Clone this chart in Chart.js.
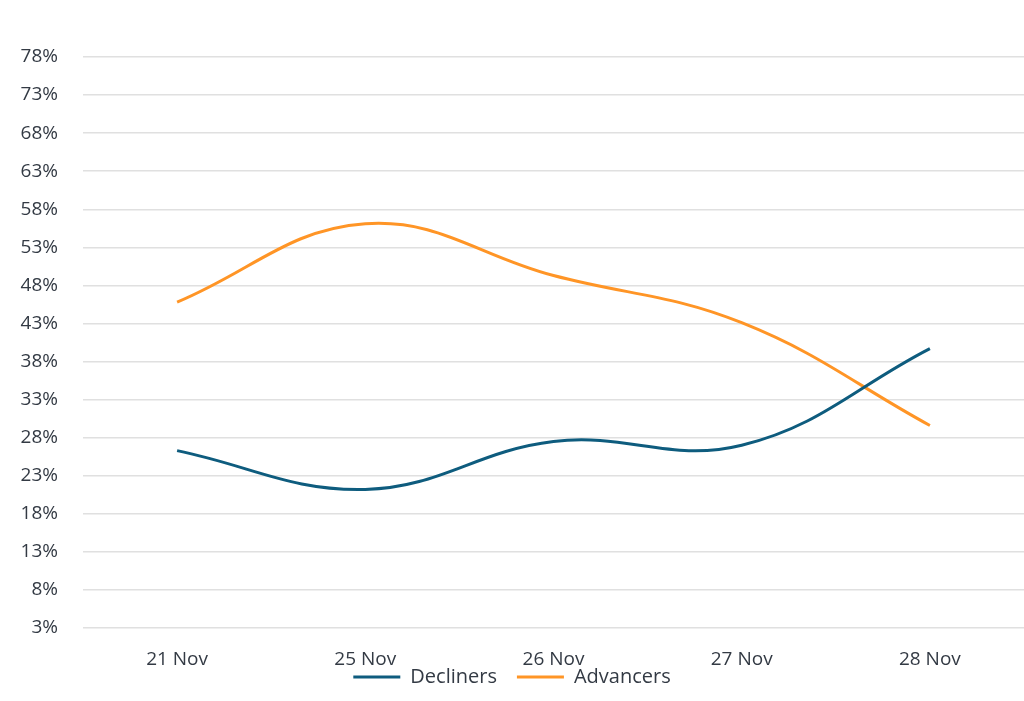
<!DOCTYPE html>
<html>
<head>
<meta charset="utf-8">
<script src="https://cdn.jsdelivr.net/npm/chart.js@4"></script>
<style>
html,body{margin:0;padding:0;background:#fff;}
#wrap{width:1024px;height:701px;position:relative;}
</style>
</head>
<body>
<div id="wrap"><canvas id="c" width="1024" height="701"></canvas></div>
<script>
const categories = ["21 Nov", "25 Nov", "26 Nov", "27 Nov", "28 Nov"];
const decliners = [26.3, 21.2, 27.5, 27.0, 39.7];
const advancers = [45.8, 56.1, 49.3, 43.1, 29.6];
const yMin = 3, yMax = 78, yStep = 5;

const FONT = "'Open Sans', 'DejaVu Sans', sans-serif";
const TEXT = '#333a44';

new Chart(document.getElementById('c'), {
  type: 'line',
  data: {
    labels: categories,
    datasets: [
      { label: 'Decliners', data: decliners, borderColor: '#0e5c7e', backgroundColor: '#0e5c7e',
        borderWidth: 3, pointRadius: 0, pointHoverRadius: 0, tension: 0.4, fill: false },
      { label: 'Advancers', data: advancers, borderColor: '#ff9526', backgroundColor: '#ff9526',
        borderWidth: 3, pointRadius: 0, pointHoverRadius: 0, tension: 0.4, fill: false }
    ]
  },
  options: {
    responsive: false,
    animation: false,
    layout: { padding: { left: 0, right: 0, top: 57, bottom: 4 } },
    plugins: {
      tooltip: { enabled: false },
      legend: {
        position: 'bottom',
        labels: {
          usePointStyle: true, pointStyle: 'line', pointStyleWidth: 47,
          font: { family: FONT, size: 20 }, color: TEXT, padding: 20
        }
      }
    },
    scales: {
      x: {
        offset: true,
        grid: { display: false, drawTicks: false },
        border: { display: false },
        ticks: { font: { family: FONT, size: 19 }, color: TEXT, padding: 20, maxRotation: 0 },
        afterFit: (s) => { s.height = 19; s._computeLabelArea = () => undefined; }
      },
      y: {
        min: yMin, max: yMax,
        grid: { color: '#e0e0e0', lineWidth: 1.5, drawTicks: false },
        border: { display: false },
        ticks: {
          stepSize: yStep,
          font: { family: FONT, size: 19 }, color: TEXT, padding: 25,
          callback: (v) => v + '%'
        },
        afterFit: (s) => { s.width = 83; }
      }
    }
  }
});
</script>
</body>
</html>
